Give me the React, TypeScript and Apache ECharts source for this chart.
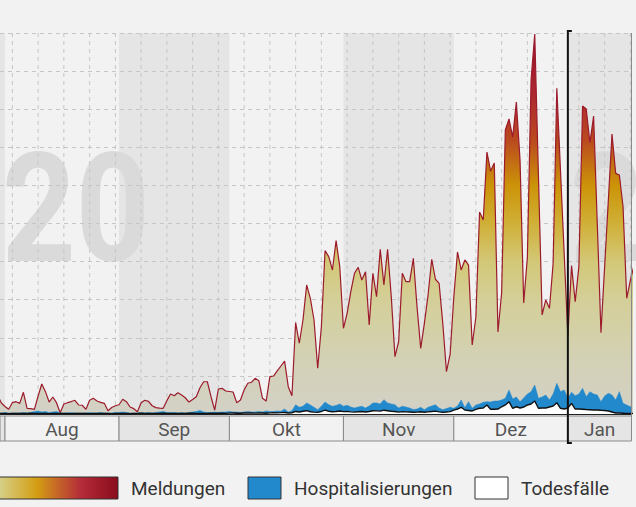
import React, { useEffect, useRef } from "react";
import * as echarts from "echarts";

// day index relative to 1 Aug 2020 (0 = 1 Aug)
const FIRST_DAY = -2;
const X_MIN = -1.36;
const X_MAX = 170.3;
const Y_MAX = 30000;
const Y_STEP = 3000;

const meldungen = [
  1500, 870, 590, 370, 890, 970, 840, 1710, 450, 420,
  370, 1420, 2360, 1760, 940, 1340, 890, 100, 790, 890,
  980, 1080, 710, 690, 370, 1080, 1240, 1020, 920, 840,
  260, 510, 650, 730, 1160, 970, 550, 420, 180, 890,
  1080, 1000, 650, 500, 470, 450, 1050, 1570, 1440, 1680,
  1500, 1280, 940, 1140, 1360, 2070, 2540, 2540, 1360, 310,
  1970, 2020, 1810, 1770, 1730, 890, 1100, 1890, 2420, 2500,
  2810, 2620, 1240, 1020, 2940, 2990, 3390, 3780, 4170, 2150,
  1440, 7190, 5570, 7400, 10160, 9110, 7400, 3600, 6870, 12860,
  12390, 11340, 13650, 11600, 6750, 7930, 9630, 11080, 11550, 10550,
  11200, 7010, 11080, 9240, 12970, 10160, 12970, 9240, 4510, 5690,
  11080, 10420, 10420, 12260, 8450, 5170, 7140, 9370, 12180, 10610,
  10290, 7140, 3330, 4720, 9210, 12760, 11340, 12130, 11730, 5430,
  7640, 15910, 15280, 20630, 19130, 19760, 6460, 9530, 22360, 23230,
  21810, 24570, 20000, 8740, 12360, 26300, 29920, 18820, 7800, 8980,
  8320, 11870, 25650, 19160, 12650, 6140, 11680, 8840, 11600, 24250,
  24020, 21360, 23460, 14960, 6400, 11610, 16810, 22050, 18950, 18820,
  16320, 9110, 10550, 11730,
];

const hospitalisierungen = [
  80, 80, 120, 80, 80, 80, 80, 120, 80, 120,
  200, 240, 160, 200, 120,
  160, 200, 80, 80, 80, 120, 80, 80,
  80, 80, 120, 80, 80, 120, 80, 80, 80, 120,
  120, 160, 120, 80, 80, 80, 120, 80, 120, 80,
  120, 160, 200, 120, 120, 120, 80, 120, 80, 120,
  160, 200, 280, 160, 120, 120, 160, 120, 160, 160,
  200, 160, 160, 120, 160, 200, 160, 160, 200, 160,
  240, 200, 200, 240, 210, 390, 160, 260,
  730, 530, 610, 870, 710, 530, 340, 610, 940, 730,
  610, 670, 790, 610, 690, 550, 470, 550, 610, 470,
  630, 870, 870, 790, 1130, 870, 790, 730, 470, 610,
  550, 470, 350, 390, 530, 340, 530, 630, 730, 470,
  340, 430, 530,
  450, 630, 1100, 500, 970, 450, 710, 790, 920, 970,
  940, 1020, 1020, 1100, 1240, 1890, 1180, 1340, 970, 1260,
  1570, 1760, 2280, 1240, 1340, 1500, 1100, 1570, 2420, 1760,
  1890, 1240, 1710, 1440, 1570, 2020, 1360, 1760, 1570, 1500,
  970, 1420, 1630, 1500, 1100, 1760, 840, 710, 570, 550,
];

const todesfaelle = [
  40, 50, 40, 30, 50, 40, 40, 50, 40, 60,
  50, 40, 40, 50, 30, 40, 40, 50, 40, 40,
  30, 40, 50, 40, 40, 30, 40, 50, 40, 40,
  40, 30, 40, 50, 40, 40, 30, 40, 50, 60,
  40, 40, 50, 40, 40, 60, 40, 50, 40, 40,
  50, 40, 60, 70, 50, 40, 40, 50, 60, 50,
  70, 60, 50,
  70, 80, 60, 60, 80, 90, 80, 70, 90, 80, 60, 90, 100, 90, 110, 120, 80, 100,
  200, 160, 220, 260, 180, 150, 130, 200, 300, 220,
  180, 200, 240, 190, 210, 170, 150, 180, 200, 160,
  200, 260, 250, 230, 300, 260, 220, 200, 150, 190,
  170, 160, 140, 150, 180, 140, 170, 200, 230, 170,
  140, 160, 190,
  310, 390, 530, 310, 280, 240, 370, 450, 470, 710,
  370, 370, 390, 570, 710, 970, 450, 570, 470, 550,
  710, 790, 1020, 450, 470, 470, 550, 630, 890, 450,
  390, 470, 840, 390, 390, 370, 350, 340, 310, 310,
  290, 280, 240, 160, 80, 80, 60, 40, 40, 40,
];

const monthNames = ["Jul", "Aug", "Sep", "Okt", "Nov", "Dez", "Jan"];
const monthStarts = [-31, 0, 31, 61, 92, 122, 153, 184];
const shadedMonths = [true, false, true, false, true, false, true];
const FIRST_MONDAY = 2; // 3 Aug 2020
const YEAR_START = 153; // 1 Jan 2021
const legendItems = ["Meldungen", "Hospitalisierungen", "Todesfälle"];

const FONT = "Roboto, 'Noto Sans', sans-serif";

function pairs(arr: number[]) {
  return arr.map((v, k) => [FIRST_DAY + k, v]);
}

export default function App() {
  const ref = useRef<HTMLDivElement>(null);

  useEffect(() => {
    document.body.style.margin = "0";
    document.body.style.background = "#f2f2f2";
    const chart = echarts.init(ref.current!, null, { renderer: "svg" });

    const areaGrad = new echarts.graphic.LinearGradient(0, 0, 0, 1, [
      { offset: 0, color: "#951228" },
      { offset: 0.15, color: "#ab2430" },
      { offset: 0.28, color: "#ba4a1f" },
      { offset: 0.4, color: "#cc9408" },
      { offset: 0.5, color: "#d0b038" },
      { offset: 0.6, color: "#d3c878" },
      { offset: 0.7, color: "#d4cf98" },
      { offset: 0.85, color: "#d3d1b4" },
      { offset: 1, color: "#d3d1c6" },
    ]);

    chart.setOption({
      animation: false,
      grid: { left: 0, right: 4.5, top: 33, bottom: 93 },
      xAxis: {
        type: "value",
        min: X_MIN,
        max: X_MAX,
        axisLine: { show: true, lineStyle: { color: "#222", width: 1 } },
        axisTick: { show: false },
        axisLabel: { show: false },
        splitLine: { show: false },
      },
      yAxis: {
        type: "value",
        min: 0,
        max: Y_MAX,
        interval: Y_STEP,
        axisLine: { show: false },
        axisTick: { show: false },
        axisLabel: { show: false },
        splitLine: { show: true, lineStyle: { color: "#c6c6c6", type: [4, 4], width: 1 } },
      },
      series: [
        {
          name: "Meldungen",
          type: "line",
          data: pairs(meldungen),
          symbol: "none",
          z: 3,
          lineStyle: { color: "#9b1b2b", width: 1.2 },
          areaStyle: { color: areaGrad, opacity: 1 },
        },
        {
          name: "Hospitalisierungen",
          type: "line",
          data: pairs(hospitalisierungen),
          symbol: "none",
          z: 4,
          lineStyle: { color: "#2389cd", width: 0.5 },
          areaStyle: { color: "#2389cd", opacity: 1 },
        },
        {
          name: "Todesfälle",
          type: "line",
          data: pairs(todesfaelle),
          symbol: "none",
          z: 5,
          lineStyle: { color: "#111", width: 1.4 },
          areaStyle: { color: "#ffffff", opacity: 1 },
        },
      ],
    });

    const px = (v: number) => chart.convertToPixel({ xAxisIndex: 0 }, v) as number;
    const py = (v: number) => chart.convertToPixel({ yAxisIndex: 0 }, v) as number;
    const top = py(Y_MAX);
    const base = py(0);
    const right = px(X_MAX);

    const els: any[] = [];
    // month bands + label cells
    for (let m = 0; m < monthNames.length; m++) {
      const a = Math.max(monthStarts[m], X_MIN);
      const b = Math.min(monthStarts[m + 1], X_MAX);
      if (b <= a) continue;
      const x0 = px(a);
      const x1 = px(b);
      if (shadedMonths[m]) {
        els.push({
          type: "rect",
          silent: true,
          z: -3,
          shape: { x: x0, y: top, width: x1 - x0, height: base - top },
          style: { fill: "#e5e5e5" },
        });
      }
      els.push({
        type: "rect",
        silent: true,
        z: 1,
        shape: { x: x0, y: base + 2, width: x1 - x0, height: 25 },
        style: { fill: shadedMonths[m] ? "#e5e5e5" : "#f2f2f2", stroke: "#8a8a8a", lineWidth: 1 },
      });
      if (x1 - x0 > 30) {
        els.push({
          type: "text",
          silent: true,
          z: 2,
          x: (x0 + x1) / 2,
          y: base + 15,
          style: {
            text: monthNames[m],
            fill: "#555",
            fontSize: 19,
            fontFamily: FONT,
            textAlign: "center",
            verticalAlign: "middle",
            textVerticalAlign: "middle",
          },
        });
      }
    }
    // weekly dashed lines
    for (let d = FIRST_MONDAY; d <= X_MAX; d += 7) {
      const x = px(d);
      els.push({
        type: "line",
        silent: true,
        z: 0,
        shape: { x1: x, y1: top, x2: x, y2: base },
        style: { stroke: "#c6c6c6", lineWidth: 1, lineDash: [4, 4] },
      });
    }
    // year watermarks
    const yx = px(YEAR_START);
    const wm = (text: string, x: number, align: string) => ({
      type: "text",
      silent: true,
      z: -2,
      x,
      y: 209,
      scaleX: 0.85,
      originX: 0,
      originY: 0,
      style: {
        text,
        fill: "#dadada",
        fontSize: 152,
        fontWeight: "bold",
        fontFamily: FONT,
        textAlign: align,
        verticalAlign: "middle",
        textVerticalAlign: "middle",
      },
    });
    els.push(wm("2020", 150, "right"));
    els.push(wm("2021", yx + 2, "left"));
    // right border
    els.push({
      type: "line",
      silent: true,
      z: 6,
      shape: { x1: right, y1: top, x2: right, y2: base + 27 },
      style: { stroke: "#8a8a8a", lineWidth: 1 },
    });
    // year separator
    els.push({
      type: "polyline",
      silent: true,
      z: 10,
      shape: { points: [[yx + 4, top - 2], [yx, top - 2], [yx, base + 29], [yx + 4, base + 29]] },
      style: { stroke: "#111", lineWidth: 2, fill: null },
    });
    // legend
    const legendY = 477;
    const legendH = 22;
    els.push({
      type: "rect",
      silent: true,
      z: 20,
      shape: { x: -3, y: legendY, width: 121, height: legendH },
      style: {
        fill: new echarts.graphic.LinearGradient(0, 0, 1, 0, [
          { offset: 0, color: "#d6d390" },
          { offset: 0.33, color: "#d49e12" },
          { offset: 0.52, color: "#c4602a" },
          { offset: 0.7, color: "#b42a38" },
          { offset: 1, color: "#8a0c1c" },
        ]),
        stroke: "#333",
        lineWidth: 1,
      },
    });
    const boxes = [
      { x: 248, fill: "#2389cd" },
      { x: 475, fill: "#ffffff" },
    ];
    boxes.forEach((b) =>
      els.push({
        type: "rect",
        silent: true,
        z: 20,
        shape: { x: b.x, y: legendY, width: 33, height: legendH },
        style: { fill: b.fill, stroke: "#333", lineWidth: 1 },
      })
    );
    const textX = [131, 294, 521];
    legendItems.forEach((t, k) =>
      els.push({
        type: "text",
        silent: true,
        z: 20,
        x: textX[k],
        y: legendY + legendH / 2,
        style: {
          text: t,
          fill: "#333",
          fontSize: 19,
          fontFamily: FONT,
          textAlign: "left",
          verticalAlign: "middle",
          textVerticalAlign: "middle",
        },
      })
    );

    chart.setOption({ graphic: { elements: els } });
    return () => chart.dispose();
  }, []);

  return (
    <div
      ref={ref}
      style={{ position: "absolute", left: 0, top: 0, width: 636, height: 507, background: "#f2f2f2" }}
    />
  );
}
